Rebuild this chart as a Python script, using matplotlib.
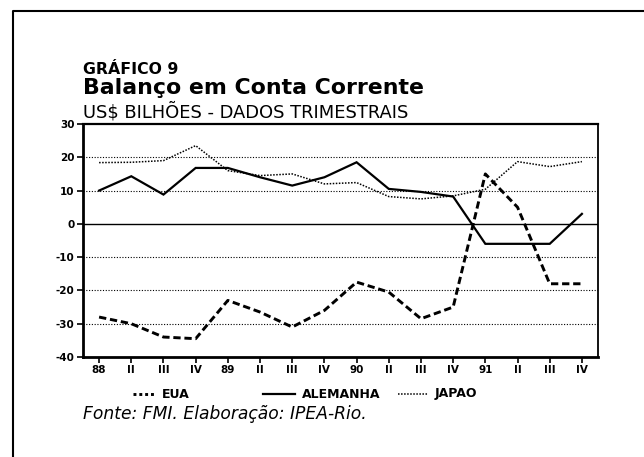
import matplotlib

matplotlib.use("Agg")
import matplotlib.pyplot as plt
from matplotlib.lines import Line2D

# quarters 1988-1991
quarters = ["88", "II", "III", "IV", "89", "II", "III", "IV",
            "90", "II", "III", "IV", "91", "II", "III", "IV"]
eua = [-28, -30, -34, -34.5, -23, -26.5, -31, -26,
       -17.5, -20.5, -28.5, -25, 15, 5, -18, -18]
alemanha = [10, 14.3, 8.8, 16.8, 16.8, 14, 11.5, 14,
            18.5, 10.5, 9.6, 8.2, -6, -6, -6, 3]
japao = [18.4, 18.5, 19, 23.5, 16, 14.5, 15, 12,
         12.4, 8.2, 7.5, 8.4, 10.4, 18.7, 17.2, 18.7]
yticks = [30, 20, 10, 0, -10, -20, -30, -40]
ytick_labels = ["30", "20", "10", "0", "-10", "-20", "-30", "-40"]

W, H = 644, 457


def fx(px):
    return px / W


def fy(py):
    return 1 - py / H


fig = plt.figure(figsize=(6.44, 4.57), dpi=100)
ax = fig.add_axes([fx(83), fy(357), fx(598) - fx(83), fy(124) - fy(357)])

x = range(len(quarters))
ax.plot(x, japao, color="black", lw=1.1, dashes=(1, 1))
ax.plot(x, alemanha, color="black", lw=1.6, solid_joinstyle="miter")
ax.plot(x, eua, color="black", lw=2.1, dashes=(2.5, 1.3))

for v in yticks:
    if v in (30, -40):
        continue
    if v == 0:
        ax.axhline(v, color="black", lw=1.0, zorder=0)
    else:
        ax.axhline(v, color="black", lw=0.8, dashes=(1, 1.5), zorder=0)

ax.set_xlim(-0.5, 15.5)
ax.set_ylim(-40, 30)
ax.set_xticks(list(x))
ax.set_xticklabels(quarters, fontsize=7.5, fontweight="bold")
ax.set_yticks(yticks)
ax.set_yticklabels(ytick_labels, fontsize=7.5, fontweight="bold")
ax.tick_params(axis="both", direction="out", length=4, width=1.2, pad=2)
for side, lw in (("left", 2.0), ("bottom", 2.0), ("top", 1.6), ("right", 1.3)):
    ax.spines[side].set_linewidth(lw)

# titles
fig.text(fx(83), fy(74), "GRÁFICO 9", fontsize=11.3, fontweight="bold",
         va="baseline")
fig.text(fx(83), fy(94), "Balanço em Conta Corrente", fontsize=15.8,
         fontweight="bold", va="baseline")
fig.text(fx(83), fy(117), "US$ BILHÕES - DADOS TRIMESTRAIS", fontsize=12.9,
         va="baseline")
fig.text(fx(83), fy(419), "Fonte: FMI. Elaboração: IPEA-Rio.", fontsize=12.3,
         style="italic", va="baseline")

# legend drawn by hand (uneven spacing in the original)
ly = fy(394)
fig.add_artist(Line2D([fx(133), fx(155)], [ly, ly], color="black", lw=2.1,
                      dashes=(1, 1)))
fig.text(fx(162), ly, "EUA", fontsize=9, fontweight="bold", va="center")
fig.add_artist(Line2D([fx(263), fx(295)], [ly, ly], color="black", lw=1.6))
fig.text(fx(302), ly, "ALEMANHA", fontsize=9, fontweight="bold", va="center")
fig.add_artist(Line2D([fx(398), fx(428)], [ly, ly], color="black", lw=1.1,
                      dashes=(1, 1)))
fig.text(fx(435), ly, "JAPAO", fontsize=9, fontweight="bold", va="center")

# page frame (left and top edges)
fig.add_artist(Line2D([fx(13), fx(13), fx(644)], [fy(457), fy(11), fy(11)],
                      color="black", lw=1.5))

fig.savefig("out.png", dpi=100)
